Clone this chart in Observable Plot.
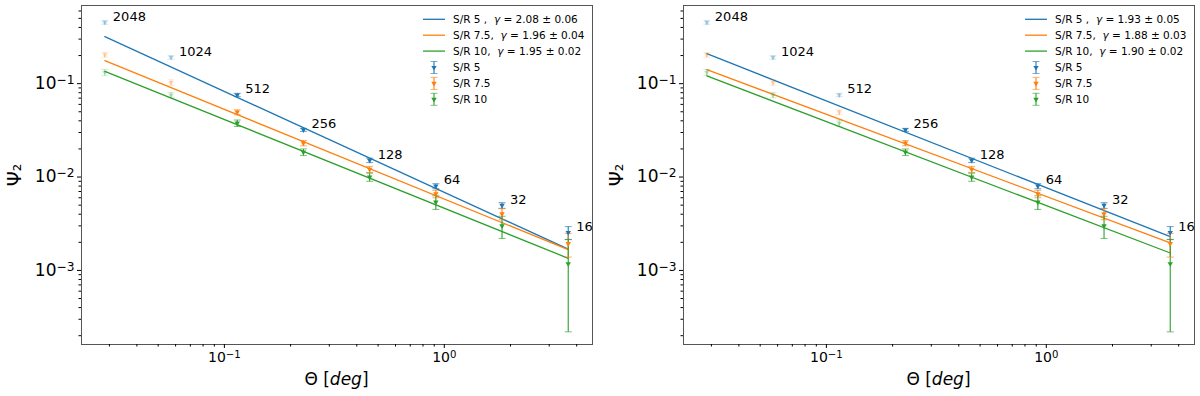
<!DOCTYPE html>
<html><head><meta charset="utf-8">
<script src="https://cdn.jsdelivr.net/npm/d3@7"></script>
<script src="https://cdn.jsdelivr.net/npm/@observablehq/plot@0.6"></script>
<style>
body{margin:0;background:#fff;font-family:"DejaVu Sans",sans-serif}
#wrap{display:flex;width:1200px;height:396px}
.panel{position:relative;width:600px;height:396px}
</style></head><body><div id="wrap"></div>
<script>
// ---- data ----
const npix = [2048, 1024, 512, 256, 128, 64, 32, 16];
const theta = [0.0286, 0.0572, 0.1144, 0.2288, 0.4577, 0.9153, 1.8306, 3.6612];
const series = ["S/R 5", "S/R 7.5", "S/R 10"];
const colors = ["#1f77b4", "#ff7f0e", "#2ca02c"];

const psiSR5  = [0.453, 0.191, 0.0757, 0.0320, 0.0151, 0.0080, 0.00497, 0.00255];
const errSR5  = [0.020, 0.008, 0.0030, 0.0012, 0.0008, 0.0005, 0.00035, 0.00040];
const psiSR75 = [0.204, 0.103, 0.0495, 0.0231, 0.0121, 0.0066, 0.00404, 0.00194];
const errSR75 = [0.012, 0.007, 0.0030, 0.0015, 0.0009, 0.0006, 0.00055, 0.00055];
const psiSR10 = [0.132, 0.0757, 0.0378, 0.0185, 0.0100, 0.0054, 0.00300, 0.00118];
const errSR10 = [0.010, 0.005, 0.0030, 0.0015, 0.0010, 0.0009, 0.00080, 0.00096];

// power-law fits  Psi = A * theta^(1-gamma)
const leftAmp = [0.00686, 0.00581, 0.00463];
const leftGamma = [2.08, 1.96, 1.95];
const leftGammaErr = [0.06, 0.04, 0.02];
const leftExcluded = [2, 2, 2];      // leading points not used in fit (faded)

const rightAmp = [0.00768, 0.00619, 0.00494];
const rightGamma = [1.93, 1.88, 1.90];
const rightGammaErr = [0.05, 0.03, 0.02];
const rightExcluded = [3, 3, 3];

const fitLabels = ["S/R 5 ,", "S/R 7.5,", "S/R 10,"];
const xTicksMajor = [0.1, 1];
const yTicksMajor = [1e-3, 1e-2, 1e-1];

// ---- build ----
const psi = [psiSR5, psiSR75, psiSR10];
const err = [errSR5, errSR75, errSR10];
const fmt = d => "10|" + String(Math.round(Math.log10(d))).replace("-", "\u2212");
const minorX = [];
for (const e of [-2, -1, 0]) for (let m = 2; m <= 9; m++) { const v = m * 10 ** e; if (v > 0.0224 && v < 4.72) minorX.push(v); }
const minorY = [];
for (const e of [-4, -3, -2, -1]) for (let m = 2; m <= 9; m++) { const v = m * 10 ** e; if (v > 1.61e-4 && v < 0.687) minorY.push(v); }

const capSymbol = {draw(ctx, size) { const w = Math.sqrt(size / Math.PI); ctx.moveTo(-w, 0); ctx.lineTo(w, 0); }};

function makePanel(amp, gamma, gErr, excluded, mL, mR) {
  const pts = [];
  series.forEach((s, i) => theta.forEach((t, j) => pts.push({
    s, t, y: psi[i][j], e: err[i][j], op: j < excluded[i] ? 0.3 : 1, n: npix[j]
  })));
  const fit = [];
  series.forEach((s, i) => [theta[0], theta[theta.length - 1]].forEach(t =>
    fit.push({s, t, y: amp[i] * Math.pow(t, 1 - gamma[i])})));

  const svg = Plot.plot({
    width: 600, height: 396,
    marginLeft: mL, marginRight: mR, marginTop: 5, marginBottom: 52,
    style: {fontFamily: "DejaVu Sans", background: "white", color: "#000"},
    x: {type: "log", domain: [0.0224, 4.72]},
    y: {type: "log", domain: [1.61e-4, 0.687]},
    color: {domain: series, range: colors},
    marks: [
      Plot.line(fit, {x: "t", y: "y", z: "s", stroke: "s", strokeWidth: 1.3}),
      Plot.link(pts, {x1: "t", x2: "t", y1: d => d.y - d.e, y2: d => d.y + d.e, stroke: "s", strokeOpacity: "op", strokeWidth: 1.1}),
      Plot.dot(pts, {x: "t", y: d => d.y - d.e, stroke: "s", symbol: capSymbol, r: 3.5, strokeOpacity: d => d.op * 0.6, strokeWidth: 1.1}),
      Plot.dot(pts, {x: "t", y: d => d.y + d.e, stroke: "s", symbol: capSymbol, r: 3.5, strokeOpacity: d => d.op * 0.6, strokeWidth: 1.1}),
      Plot.dot(pts, {x: "t", y: "y", fill: "s", symbol: "triangle", rotate: 180, r: 2.0, fillOpacity: "op", stroke: null}),
      Plot.text(pts.filter(d => d.s === "S/R 5"), {x: "t", y: "y", text: d => String(d.n), dx: 8, dy: -6, textAnchor: "start", fontSize: 13, fill: "#000"}),
      Plot.frame({stroke: "#555", strokeWidth: 1}),
      Plot.axisX({ticks: xTicksMajor, tickFormat: fmt, tickSize: 4, tickPadding: 4, fontSize: 14, label: null}),
      Plot.axisX({ticks: minorX, tickFormat: () => "", tickSize: 2.5, label: null}),
      Plot.axisY({ticks: yTicksMajor, tickFormat: fmt, tickSize: 4, tickPadding: 3, fontSize: 17, label: null}),
      Plot.axisY({ticks: minorY, tickFormat: () => "", tickSize: 2.5, label: null})
    ]
  });

  const s = d3.select(svg);
  // superscript tick labels
  s.selectAll("text").each(function() {
    const txt = this.textContent;
    if (!txt.includes("|")) return;
    const [base, ex] = txt.split("|");
    const el = d3.select(this);
    el.text(null);
    el.append("tspan").text(base);
    el.append("tspan").attr("dy", "-0.42em").attr("font-size", "0.72em").text(ex);
  });

  const plotW = 600 - mL - mR;
  // y label
  s.append("text").attr("transform", `translate(${mL - 60},175) rotate(-90)`)
    .attr("text-anchor", "middle").attr("font-size", 19).attr("fill", "#000").text("\u03A8\u2082");
  // x label
  const xl = s.append("text").attr("x", mL + plotW / 2).attr("y", 385)
    .attr("text-anchor", "middle").attr("font-size", 17).attr("fill", "#000");
  xl.append("tspan").text("\u0398 [");
  xl.append("tspan").attr("font-style", "italic").text("deg");
  xl.append("tspan").text("]");

  // legend
  const lx = 600 - mR - 169;
  const rows = [19.3, 35.2, 51.1, 67.5, 83.4, 99.3];
  const lg = s.append("g").attr("font-size", 10.5).attr("fill", "#000").attr("text-anchor", "start");
  series.forEach((name, i) => {
    const y = rows[i];
    lg.append("line").attr("x1", lx).attr("x2", lx + 22).attr("y1", y).attr("y2", y)
      .attr("stroke", colors[i]).attr("stroke-width", 1.3);
    const t = lg.append("text").attr("x", lx + 30).attr("y", y).attr("dy", "0.35em").attr("text-anchor", "start");
    t.append("tspan").text(fitLabels[i] + "\u00A0\u00A0");
    t.append("tspan").attr("font-style", "italic").text("\u03B3");
    t.append("tspan").text(` = ${gamma[i].toFixed(2)} \u00B1 ${gErr[i].toFixed(2)}`);
  });
  series.forEach((name, i) => {
    const y = rows[i + 3], cx = lx + 11;
    lg.append("line").attr("x1", cx).attr("x2", cx).attr("y1", y - 6).attr("y2", y + 6).attr("stroke", colors[i]).attr("stroke-width", 1.1);
    lg.append("line").attr("x1", cx - 3.5).attr("x2", cx + 3.5).attr("y1", y - 6).attr("y2", y - 6).attr("stroke", colors[i]).attr("stroke-opacity", 0.6);
    lg.append("line").attr("x1", cx - 3.5).attr("x2", cx + 3.5).attr("y1", y + 6).attr("y2", y + 6).attr("stroke", colors[i]).attr("stroke-opacity", 0.6);
    lg.append("path").attr("d", d3.symbol(d3.symbolTriangle, 2.0 * 2.0 * Math.PI)()).attr("transform", `translate(${cx},${y}) rotate(180)`).attr("fill", colors[i]);
    lg.append("text").attr("x", lx + 30).attr("y", y).attr("dy", "0.35em").attr("text-anchor", "start").text(name);
  });
  return svg;
}

const wrap = document.getElementById("wrap");
const p1 = document.createElement("div"); p1.className = "panel";
const p2 = document.createElement("div"); p2.className = "panel";
wrap.append(p1, p2);
p1.append(makePanel(leftAmp, leftGamma, leftGammaErr, leftExcluded, 81, 8));
p2.append(makePanel(rightAmp, rightGamma, rightGammaErr, rightExcluded, 83, 6));
</script></body></html>
